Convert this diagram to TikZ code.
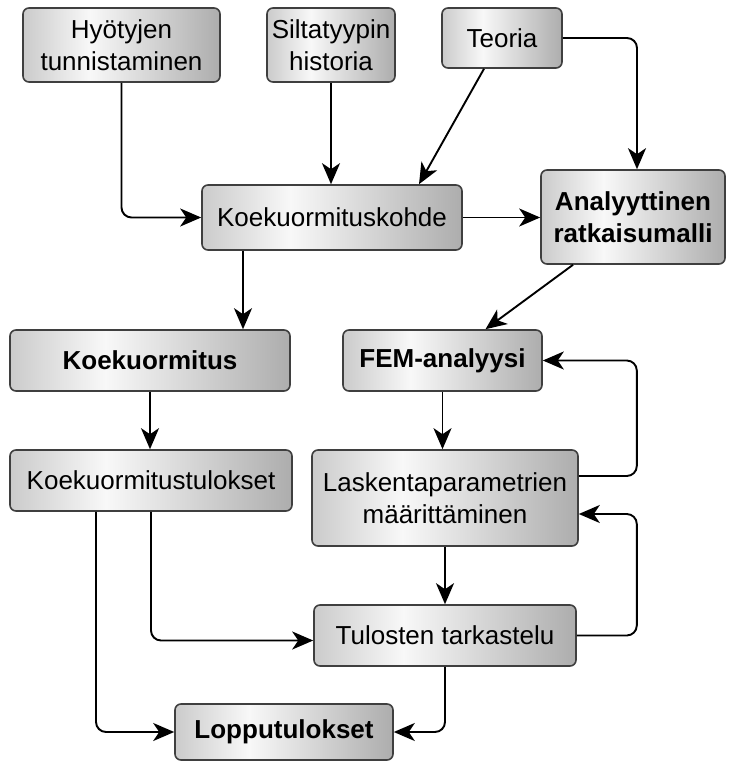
\documentclass[tikz,border=0pt]{standalone}
\usepackage{fontspec}
\setmainfont{Liberation Sans}
\usetikzlibrary{arrows.meta,calc}
\definecolor{shL}{HTML}{CBCBCB}
\definecolor{shM}{HTML}{F8F8F8}
\definecolor{shR}{HTML}{ADADAD}
\definecolor{bordergray}{HTML}{3F3F3F}
\pgfdeclarehorizontalshading{boxshade}{100bp}{color(0bp)=(shL); color(25bp)=(shL); color(42bp)=(shM); color(75bp)=(shR); color(100bp)=(shR)}
\tikzset{
  box/.style={draw=bordergray, line width=1.6pt, rounded corners=6pt, shading=boxshade,
    align=center, inner sep=0pt, font=\fontsize{26}{32}\selectfont},
  boldbox/.style={box, font=\fontsize{26}{32}\selectfont\bfseries},
  arr/.style={-{Stealth[length=21pt,width=18pt,inset=6pt]}, line width=1.9pt, rounded corners=10pt, black}
}
\begin{document}
\begin{tikzpicture}[x=1pt,y=-1pt]
\useasboundingbox (0,0) rectangle (728,762);
\node[box, minimum width=197pt, minimum height=74pt] (hyo) at (121.5,45) {Hyötyjen\\tunnistaminen};
\node[box, minimum width=128pt, minimum height=74pt] (silta) at (331,45) {Siltatyypin\\historia};
\node[box, minimum width=120pt, minimum height=60pt] (teoria) at (502,38) {Teoria};
\node[box, minimum width=260pt, minimum height=65pt] (kohde) at (332,217.5) {Koekuormituskohde};
\node[boldbox, minimum width=184pt, minimum height=94pt] (anal) at (633,217) {Analyyttinen\\ratkaisumalli};
\node[boldbox, minimum width=280pt, minimum height=61pt] (koek) at (150,360.5) {Koekuormitus};
\node[boldbox, minimum width=199pt, minimum height=61pt] (fem) at (442.5,360.5) {FEM-analyysi};
\node[box, minimum width=282pt, minimum height=61pt] (tul) at (151,480.5) {Koekuormitustulokset};
\node[box, minimum width=266pt, minimum height=96pt] (lask) at (445,498) {Laskentaparametrien\\määrittäminen};
\node[box, minimum width=262pt, minimum height=61pt] (tark) at (445,635.5) {Tulosten tarkastelu};
\node[boldbox, minimum width=218pt, minimum height=56pt] (loppu) at (284,732) {Lopputulokset};

\coordinate (k1) at ($(kohde.south)+(-89,0)$);
\coordinate (t1) at ($(teoria.south)+(-18,0)$);
\coordinate (k2) at ($(kohde.north)+(87,0)$);
\coordinate (a1) at ($(anal.south)+(-60,0)$);
\coordinate (f1) at ($(fem.north)+(43,0)$);
\coordinate (an) at ($(anal.north)+(4,0)$);
\coordinate (l1) at ($(lask.east)+(0,-22)$);
\coordinate (l2) at ($(lask.east)+(0,16)$);
\coordinate (tw) at ($(tark.west)+(0,5)$);
\coordinate (u2) at ($(tul.south)+(-55,0)$);

\draw[arr] (hyo.south) |- (kohde.west);
\draw[arr] (silta.south) -- (silta.south |- kohde.north);
\draw[arr] (t1) -- (k2);
\draw[arr] (teoria.east) -| (an);
\draw[arr] (kohde.east) -- (kohde.east -| anal.west);
\draw[arr] (k1) -- (k1 |- koek.north);
\draw[arr] (koek.south) -- (koek.south |- tul.north);
\draw[arr] (a1) -- (f1);
\draw[arr] (fem.south) -- (fem.south |- lask.north);
\draw[arr] (l1) -- ++(58,0) |- (fem.east);
\draw[arr] (tark.east) -- ++(60,0) |- (l2);
\draw[arr] (lask.south) -- (lask.south |- tark.north);
\draw[arr] (tul.south) |- (tw);
\draw[arr] (u2) |- (loppu.west);
\draw[arr] (tark.south) |- (loppu.east);
\end{tikzpicture}
\end{document}
